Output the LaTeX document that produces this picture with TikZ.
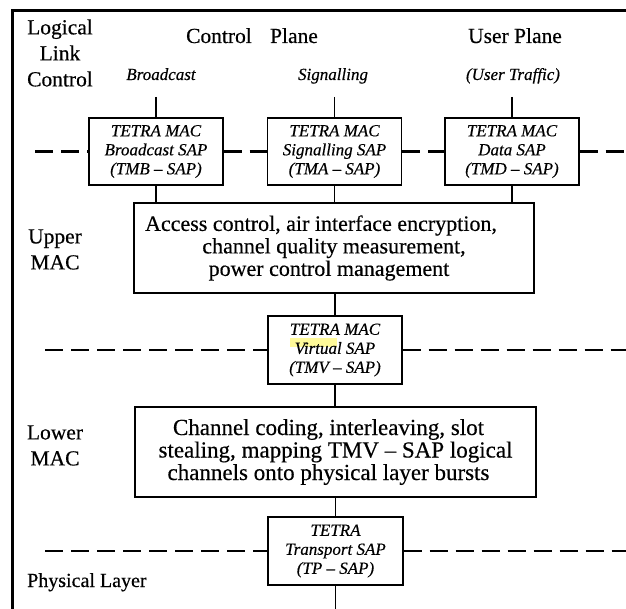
\documentclass[tikz,border=0pt]{standalone}
\usepackage{fontspec}
\setmainfont{Liberation Serif}[UprightFeatures={FakeBold=0.4},ItalicFeatures={FakeBold=0.4}]
\begin{document}
\begin{tikzpicture}[x=1bp,y=-1bp,
  lbl/.style={font=\fontsize{21.5bp}{26bp}\selectfont, inner sep=0pt, align=center},
  ital/.style={font=\fontsize{17bp}{19bp}\selectfont\itshape, inner sep=0pt},
  sap/.style={draw, line width=1.4bp, minimum width=134bp, minimum height=67bp, inner sep=0pt, align=center, font=\fontsize{17bp}{19bp}\selectfont\itshape},
  func/.style={draw, line width=1.4bp, minimum width=400bp, minimum height=90bp, inner sep=0pt, align=center, font=\fontsize{22bp}{22.5bp}\selectfont},
  conn/.style={line width=1.4bp},
  layer/.style={line width=2.7bp, dash pattern=on 18bp off 8bp},
  frame/.style={line width=3bp}]
\useasboundingbox (0,0) rectangle (626,609);
% frame
\draw[frame] (12,609) -- (12,11) -- (626,11);
% labels
\node[lbl] (llc) at (60,53) {Logical\\Link\\Control};
\node[lbl, anchor=base] (cp) at (252,43) {Control\hspace{0.85em}Plane};
\node[lbl, anchor=base] (up) at (515,43) {User Plane};
\node[ital, anchor=base] (bc) at (161,80) {Broadcast};
\node[ital, anchor=base] (sg) at (333,80) {Signalling};
\node[ital, anchor=base] (ut) at (513,80) {(User Traffic)};
\node[lbl] (uml) at (55,249.5) {Upper\\MAC};
\node[lbl] (lml) at (55,445.5) {Lower\\MAC};
\node[lbl, anchor=base west, font=\fontsize{20bp}{24bp}\selectfont] (phy) at (27,587) {Physical Layer};
% highlight
\fill[yellow!40] (290,338) rectangle (337,347);
% boxes
\node[sap] (tmb) at (156,151.5) {TETRA MAC\\Broadcast SAP\\(TMB -- SAP)};
\node[sap] (tma) at (334.5,151.5) {TETRA MAC\\Signalling SAP\\(TMA -- SAP)};
\node[sap] (tmd) at (512,151.5) {TETRA MAC\\Data SAP\\(TMD -- SAP)};
\node[func] (umac) at (334,248) {Access control, air interface encryption,\hspace*{26bp}\\channel quality measurement,\hspace*{10bp}\\power control management\hspace*{10bp}};
\node[sap, minimum height=68bp] (tmv) at (335,350) {TETRA MAC\\Virtual SAP\\(TMV -- SAP)};
\node[func, minimum width=401bp, font=\fontsize{23bp}{22.5bp}\selectfont] (lmac) at (335.5,452) {Channel coding, interleaving, slot\hspace*{14bp}\\stealing, mapping TMV -- SAP logical\hspace*{14bp}\\channels onto physical layer bursts\hspace*{14bp}};
\node[sap, minimum width=135bp, minimum height=68bp] (tp) at (335.5,551) {TETRA\\Transport SAP\\(TP -- SAP)};
% connectors
\coordinate (a1) at (tmb.north |- 0,97);
\coordinate (a2) at (tma.north |- 0,97);
\coordinate (a3) at (tmd.north |- 0,97);
\draw[conn] (a1) -- (tmb.north);
\draw[conn] (a2) -- (tma.north);
\draw[conn] (a3) -- (tmd.north);
\draw[conn] (tmb.south) -- (tmb.south |- umac.north);
\draw[conn] (tma.south) -- (tma.south |- umac.north);
\draw[conn] (tmd.south) -- (tmd.south |- umac.north);
\draw[conn] (tmv.north |- umac.south) -- (tmv.north);
\draw[conn] (tmv.south) -- (tmv.south |- lmac.north);
\draw[conn] (tp.north |- lmac.south) -- (tp.north);
\coordinate (bot) at (tp.south |- 0,609);
\draw[conn] (tp.south) -- (bot);
% layer boundaries
\coordinate (d1) at (35,151.5);
\coordinate (d2) at (626,151.5);
\coordinate (d3) at (45,350);
\coordinate (d4) at (626,350);
\coordinate (d5) at (45,551);
\coordinate (d6) at (626,551);
\draw[layer] (d1) -- (tmb.west);
\draw[layer] (tmb.east) -- (tma.west);
\draw[layer] (tma.east) -- (tmd.west);
\draw[layer] (tmd.east) -- (d2);
\draw[layer] (d3) -- (tmv.west);
\draw[layer] (tmv.east) -- (d4);
\draw[layer] (d5) -- (tp.west);
\draw[layer] (tp.east) -- (d6);
\end{tikzpicture}
\end{document}
